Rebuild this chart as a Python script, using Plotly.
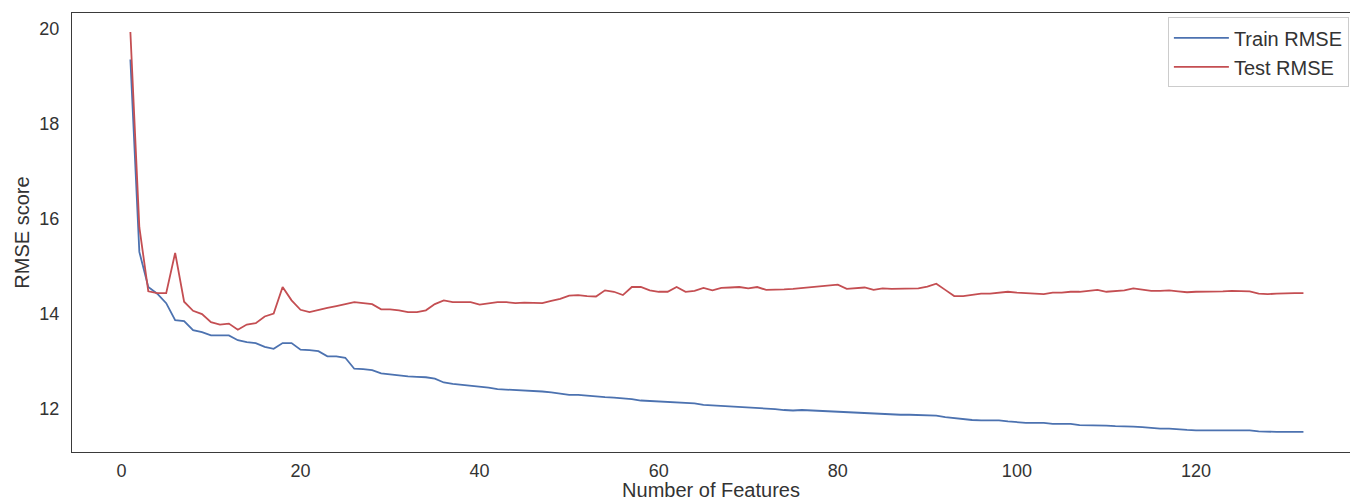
import plotly.graph_objects as go

# Number of selected features (1..132)
n_features = list(range(1, 133))

# RMSE on the training split for each feature count
train_rmse = [
    19.35, 15.30, 14.56, 14.42, 14.22, 13.86, 13.84, 13.65, 13.61, 13.54,
    13.54, 13.54, 13.44, 13.40, 13.38, 13.30, 13.26, 13.38, 13.38, 13.24,
    13.23, 13.21, 13.10, 13.10, 13.07, 12.84, 12.83, 12.81, 12.74, 12.72,
    12.69, 12.68, 12.67, 12.66, 12.63, 12.55, 12.52, 12.50, 12.48, 12.47,
    12.44, 12.41, 12.40, 12.39, 12.39, 12.38, 12.36, 12.34, 12.31, 12.29,
    12.29, 12.27, 12.26, 12.24, 12.23, 12.22, 12.20, 12.17, 12.16, 12.15,
    12.14, 12.14, 12.13, 12.11, 12.08, 12.07, 12.06, 12.04, 12.03, 12.03,
    12.02, 12.00, 11.99, 11.97, 11.96, 11.97, 11.96, 11.95, 11.95, 11.94,
    11.92, 11.91, 11.90, 11.89, 11.88, 11.88, 11.87, 11.87, 11.86, 11.85,
    11.85, 11.82, 11.80, 11.77, 11.76, 11.75, 11.75, 11.75, 11.73, 11.71,
    11.70, 11.70, 11.70, 11.68, 11.68, 11.68, 11.65, 11.65, 11.64, 11.64,
    11.63, 11.63, 11.62, 11.61, 11.59, 11.58, 11.58, 11.56, 11.55, 11.54,
    11.54, 11.54, 11.54, 11.54, 11.54, 11.54, 11.52, 11.51, 11.51, 11.51,
    11.51, 11.51,
]

# RMSE on the test split for each feature count
test_rmse = [
    19.93, 15.82, 14.47, 14.43, 14.43, 15.28, 14.25, 14.06, 13.99, 13.82,
    13.77, 13.79, 13.66, 13.77, 13.80, 13.94, 14.00, 14.56, 14.28, 14.08,
    14.03, 14.08, 14.12, 14.16, 14.20, 14.24, 14.22, 14.20, 14.09, 14.09,
    14.07, 14.03, 14.03, 14.07, 14.20, 14.28, 14.24, 14.24, 14.24, 14.19,
    14.21, 14.24, 14.24, 14.22, 14.23, 14.23, 14.22, 14.27, 14.31, 14.38,
    14.39, 14.37, 14.36, 14.49, 14.46, 14.39, 14.56, 14.56, 14.49, 14.46,
    14.46, 14.56, 14.46, 14.48, 14.54, 14.49, 14.54, 14.55, 14.56, 14.53,
    14.56, 14.50, 14.50, 14.51, 14.52, 14.54, 14.56, 14.58, 14.59, 14.61,
    14.52, 14.54, 14.55, 14.50, 14.53, 14.52, 14.52, 14.52, 14.53, 14.57,
    14.63, 14.50, 14.37, 14.37, 14.39, 14.42, 14.42, 14.44, 14.46, 14.44,
    14.43, 14.41, 14.41, 14.44, 14.44, 14.46, 14.46, 14.48, 14.50, 14.46,
    14.48, 14.49, 14.53, 14.50, 14.48, 14.48, 14.49, 14.47, 14.45, 14.46,
    14.46, 14.46, 14.47, 14.48, 14.47, 14.47, 14.42, 14.41, 14.42, 14.43,
    14.43, 14.43,
]

x_ticks = [0, 20, 40, 60, 80, 100, 120]
y_ticks = [12, 14, 16, 18, 20]

FONT = "Liberation Sans, Arial, sans-serif"
TEXT = "#333333"
FRAME = "#3a3a3a"

fig = go.Figure()
fig.add_trace(go.Scatter(
    x=n_features, y=train_rmse, mode="lines", name="Train RMSE",
    line=dict(color="#4c72b0", width=1.8),
))
fig.add_trace(go.Scatter(
    x=n_features, y=test_rmse, mode="lines", name="Test RMSE",
    line=dict(color="#c44e52", width=1.8),
))

fig.update_layout(
    width=1350, height=501,
    margin=dict(l=72, r=0, t=13, b=49),
    paper_bgcolor="white", plot_bgcolor="white",
    font=dict(family=FONT, size=18, color=TEXT),
    showlegend=True,
    legend=dict(
        x=0.8575, y=0.99, xanchor="left", yanchor="top",
        bgcolor="white", bordercolor="#cccccc", borderwidth=1,
        font=dict(family=FONT, size=20, color=TEXT),
        itemwidth=55, entrywidth=200, tracegroupgap=0,
    ),
)

fig.update_xaxes(
    range=[-5.52, 137.2],
    tickvals=x_ticks, ticktext=[str(v) for v in x_ticks],
    ticks="", showgrid=False, zeroline=False,
    showline=True, linecolor=FRAME, linewidth=1.3, mirror=True,
    tickfont=dict(size=18, color=TEXT), ticklabelstandoff=2,
    title=dict(text="Number of Features", font=dict(size=20, color=TEXT), standoff=0),
)
fig.update_yaxes(
    range=[11.086, 20.33],
    tickvals=y_ticks, ticktext=[str(v) for v in y_ticks],
    ticks="", showgrid=False, zeroline=False,
    showline=True, linecolor=FRAME, linewidth=1.3, mirror=False,
    tickfont=dict(size=18, color=TEXT), ticklabelstandoff=8,
    title=dict(text="RMSE score", font=dict(size=20, color=TEXT), standoff=4),
)

fig.write_html("out.html")
